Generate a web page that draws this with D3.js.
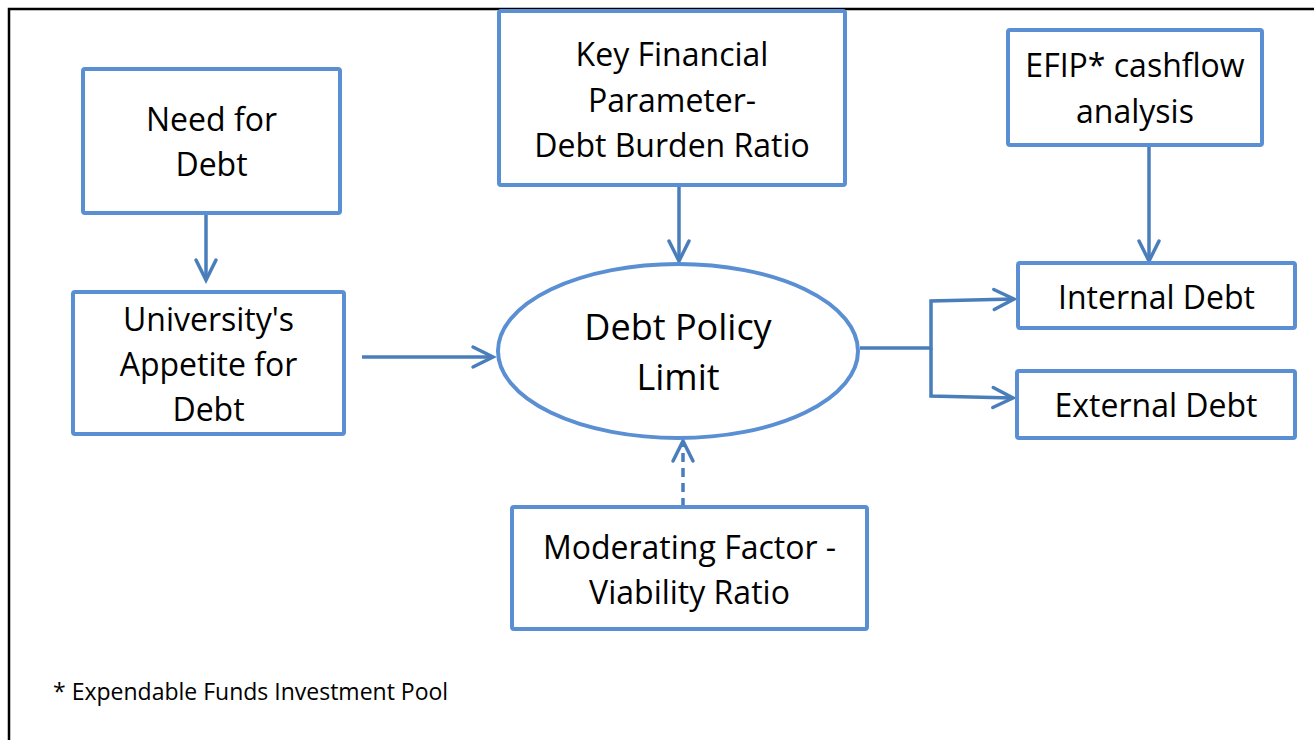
<!DOCTYPE html>
<html>
<head>
<meta charset="utf-8">
<script src="https://cdn.jsdelivr.net/npm/d3@7"></script>
<style>
  html, body { margin: 0; padding: 0; background: #fff; }
  svg { display: block; }
  text { font-family: "Open Sans", "Noto Sans", sans-serif; fill: #000; }
</style>
</head>
<body>
<svg id="chart" width="1314" height="740"></svg>
<script>
// ---- content (labels and relationships) ----
const nodeIds = ["need", "appetite", "keyfin", "policy", "efip", "internal", "external", "moderating"];
const nodeLabels = [
  ["Need for", "Debt"],
  ["University's", "Appetite for", "Debt"],
  ["Key Financial", "Parameter-", "Debt Burden Ratio"],
  ["Debt Policy", "Limit"],
  ["EFIP* cashflow", "analysis"],
  ["Internal Debt"],
  ["External Debt"],
  ["Moderating Factor -", "Viability Ratio"]
];
const edgeFrom = ["need", "keyfin", "efip", "appetite", "policy", "policy", "moderating"];
const edgeTo   = ["appetite", "policy", "internal", "policy", "internal", "external", "policy"];
const edgeDashed = [false, false, false, false, false, false, true];
const footnote = "* Expendable Funds Investment Pool";

// ---- layout (positions and styles) ----
const boxLayout = {
  need:       {x: 83,   y: 69,  w: 257, h: 144, fs: 32, lh: 45, cy: 142},
  appetite:   {x: 73,   y: 292, w: 271, h: 142, fs: 32, lh: 45, cy: 364},
  keyfin:     {x: 499,  y: 11,  w: 346, h: 174, fs: 32, lh: 45.5, cy: 100},
  efip:       {x: 1008, y: 30,  w: 254, h: 115, fs: 32, lh: 46, cy: 88},
  internal:   {x: 1018, y: 263, w: 277, h: 65,  fs: 32, lh: 45, cy: 297},
  external:   {x: 1017, y: 371, w: 278, h: 67,  fs: 32, lh: 45, cy: 405},
  moderating: {x: 512,  y: 507, w: 355, h: 122, fs: 32, lh: 45, cy: 570}
};
const ellipseLayout = {policy: {cx: 678, cy: 351, rx: 180, ry: 87, fs: 36, lh: 50, tcy: 352}};
const edgePaths = [
  [[206, 213], [206, 280]],
  [[679, 185], [679, 261]],
  [[1149, 145], [1149, 261]],
  [[362, 357], [493, 357]],
  [[860, 348], [931, 348], [931, 301], [1014, 299]],
  [[931, 348], [931, 396], [1013, 398]],
  [[683, 507], [683, 441]]
];
const boxColor = "#5A8FD3";
const lineColor = "#4A7EBB";

const svg = d3.select("#chart");

// frame (top and left black rules)
svg.append("path")
  .attr("d", d3.line()([[9, 740], [9, 9], [1314, 9]]))
  .attr("fill", "none").attr("stroke", "#000").attr("stroke-width", 2.5);

// connectors
const lineGen = d3.line();
edgeFrom.forEach((f, i) => {
  const pts = edgePaths[i];
  svg.append("path")
    .attr("d", lineGen(pts))
    .attr("fill", "none")
    .attr("stroke", lineColor)
    .attr("stroke-width", 3.5)
    .attr("stroke-linejoin", "miter")
    .attr("stroke-dasharray", edgeDashed[i] ? "9,6" : null);
  // open chevron arrowhead
  const [x2, y2] = pts[pts.length - 1];
  const [x1, y1] = pts[pts.length - 2];
  const ang = Math.atan2(y2 - y1, x2 - x1);
  const L = 20, W = 10;
  const bx = x2 - L * Math.cos(ang), by = y2 - L * Math.sin(ang);
  const px = -Math.sin(ang) * W, py = Math.cos(ang) * W;
  svg.append("path")
    .attr("d", lineGen([[bx + px, by + py], [x2, y2], [bx - px, by - py]]))
    .attr("fill", "none")
    .attr("stroke", lineColor)
    .attr("stroke-width", 3.5)
    .attr("stroke-linecap", "round")
    .attr("stroke-linejoin", "miter");
});

// nodes
nodeIds.forEach((id, i) => {
  const lines = nodeLabels[i];
  let cx, cy, fs, lh;
  if (boxLayout[id]) {
    const b = boxLayout[id];
    svg.append("rect")
      .attr("x", b.x).attr("y", b.y).attr("width", b.w).attr("height", b.h)
      .attr("rx", 2).attr("fill", "#fff")
      .attr("stroke", boxColor).attr("stroke-width", 4);
    cx = b.x + b.w / 2; cy = b.cy; fs = b.fs; lh = b.lh;
  } else {
    const e = ellipseLayout[id];
    svg.append("ellipse")
      .attr("cx", e.cx).attr("cy", e.cy).attr("rx", e.rx).attr("ry", e.ry)
      .attr("fill", "#fff").attr("stroke", boxColor).attr("stroke-width", 4);
    cx = e.cx; cy = e.tcy; fs = e.fs; lh = e.lh;
  }
  const n = lines.length;
  const t = svg.append("text")
    .attr("text-anchor", "middle")
    .attr("font-size", fs);
  lines.forEach((ln, k) => {
    const lineCenter = cy + (k - (n - 1) / 2) * lh;
    t.append("tspan")
      .attr("x", cx)
      .attr("y", lineCenter + fs * 0.36)
      .text(ln);
  });
});

// footnote
svg.append("text")
  .attr("x", 53).attr("y", 700)
  .attr("font-size", 23)
  .text(footnote);
</script>
</body>
</html>
